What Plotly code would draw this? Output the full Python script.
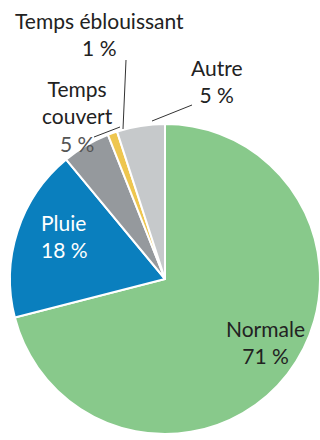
import plotly.graph_objects as go

# Weather conditions and their share of cases (%)
categories = ["Normale", "Pluie", "Temps couvert", "Temps éblouissant", "Autre"]
shares = [71, 18, 5, 1, 5]
colors = ["#88C98B", "#0A7FBE", "#95999D", "#EEC64F", "#C6C9CB"]

W, H = 320, 440


def px(x):
    return x / W


def py(y):
    return 1 - y / H


fig = go.Figure(
    go.Pie(
        labels=categories,
        values=shares,
        sort=False,
        direction="clockwise",
        rotation=0,
        textinfo="none",
        hoverinfo="label+percent",
        marker=dict(colors=colors, line=dict(color="white", width=2)),
        domain=dict(x=[px(10), px(320)], y=[py(434), py(124)]),
        showlegend=False,
    )
)

# Slice labels: (text, x, y, colour, anchor)
labels = [
    ("Temps éblouissant<br>1 %", 99, 34, "#222222", "center"),
    ("Autre<br>5 %", 217, 81, "#222222", "center"),
    ("Temps<br>couvert<br><span style='color:#555555'>5 %</span>", 77, 116, "#222222", "center"),
    ("Pluie<br>18 %", 39, 236, "#FFFFFF", "left"),
    ("Normale<br>71 %", 265, 342, "#222222", "center"),
]
for text, x, y, col, anchor in labels:
    fig.add_annotation(
        text=text, x=px(x), y=py(y), xref="paper", yref="paper",
        showarrow=False, xanchor=anchor, yanchor="middle", align=anchor,
        font=dict(family="Lato", size=21, color=col),
    )

# Leader lines from labels to the thin slices
leaders = [
    (126, 60, 123, 129),
    (152, 121, 192, 105),
    (94, 137, 120, 127),
]
for x0, y0, x1, y1 in leaders:
    fig.add_shape(
        type="line", xref="paper", yref="paper",
        x0=px(x0), y0=py(y0), x1=px(x1), y1=py(y1),
        line=dict(color="#333333", width=1),
    )

fig.update_layout(
    width=W, height=H,
    margin=dict(l=0, r=0, t=0, b=0),
    paper_bgcolor="white",
    plot_bgcolor="white",
)

fig.write_html("out.html")
